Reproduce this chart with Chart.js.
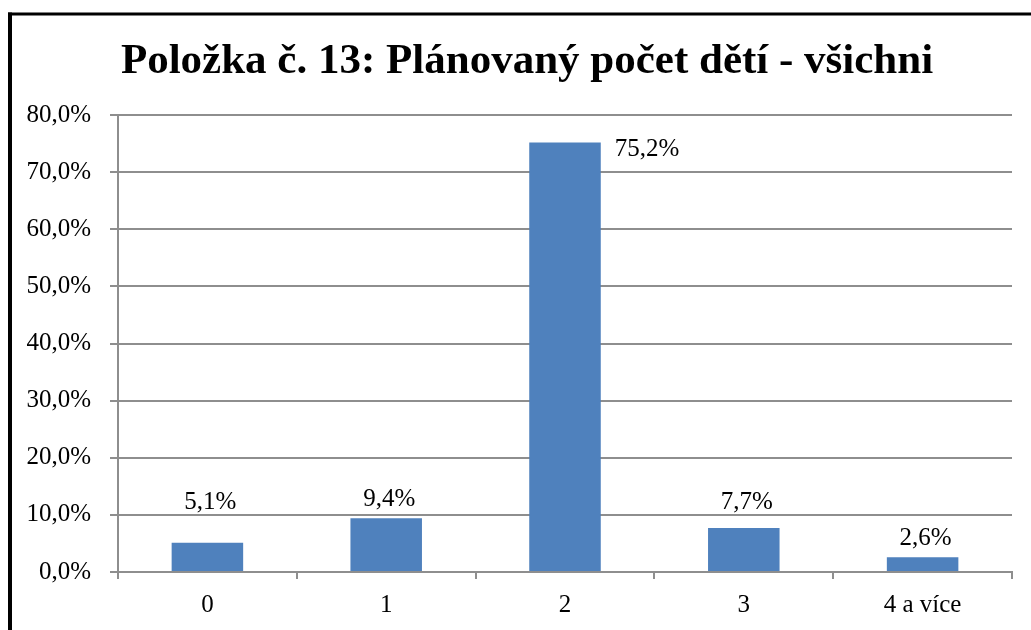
<!DOCTYPE html>
<html>
<head>
<meta charset="utf-8">
<script src="https://cdn.jsdelivr.net/npm/chart.js@4"></script>
<style>
  html, body { margin: 0; padding: 0; background: #fff; }
  #wrap { width: 1031px; height: 630px; position: relative; }
</style>
</head>
<body>
<div id="wrap"><canvas id="c" width="1031" height="630"></canvas></div>
<script>
const titleText = 'Položka č. 13: Plánovaný počet dětí - všichni';
const categories = ['0', '1', '2', '3', '4 a více'];
const values = [5.1, 9.4, 75.2, 7.7, 2.6];
const yMin = 0;
const yMax = 80;
const yStep = 10;

const fmt = v => Number(v).toFixed(1).replace('.', ',') + '%';
const FONT = 'Liberation Serif';
const GRID = '#8e8e8e';

const framePlugin = {
  id: 'frame',
  beforeDraw(chart) {
    const ctx = chart.ctx;
    ctx.save();
    ctx.fillStyle = '#fff';
    ctx.fillRect(0, 0, chart.width, chart.height);
    ctx.fillStyle = '#000';
    ctx.fillRect(8, 12.5, 4, chart.height);
    ctx.fillRect(8, 12.5, chart.width, 3);
    ctx.restore();
  },
  afterDraw(chart) {
    const ctx = chart.ctx;
    ctx.save();
    ctx.font = 'bold 43px "' + FONT + '"';
    ctx.fillStyle = '#000';
    ctx.textAlign = 'center';
    ctx.textBaseline = 'alphabetic';
    ctx.fillText(titleText, 527, 73);
    ctx.restore();
  }
};

const labelPlugin = {
  id: 'valLabels',
  afterDatasetsDraw(chart) {
    const ctx = chart.ctx;
    const yScale = chart.scales.y;
    const area = chart.chartArea;
    const meta = chart.getDatasetMeta(0);
    const gridYs = yScale.ticks.map(t => yScale.getPixelForValue(t.value));
    ctx.save();
    ctx.font = '25px "' + FONT + '"';
    ctx.fillStyle = '#000';
    ctx.textBaseline = 'alphabetic';
    meta.data.forEach((bar, i) => {
      const txt = fmt(values[i]);
      const top = bar.y;
      let base = top - 12;
      if (base - 18 < area.top) {
        ctx.textAlign = 'left';
        ctx.fillText(txt, bar.x + bar.width / 2 + 14, top + 14);
        return;
      }
      for (const g of gridYs) {
        if (g < base + 5 && g > base - 18) { base = g - 6; }
      }
      ctx.textAlign = 'center';
      ctx.fillText(txt, bar.x + 3, base);
    });
    ctx.restore();
  }
};

new Chart(document.getElementById('c'), {
  type: 'bar',
  data: {
    labels: categories,
    datasets: [{
      data: values,
      backgroundColor: '#4F81BD',
      borderWidth: 0,
      barPercentage: 0.4,
      categoryPercentage: 1.0
    }]
  },
  options: {
    responsive: false,
    animation: false,
    events: [],
    layout: { padding: { left: 0, right: 19, top: 115, bottom: 0 } },
    plugins: {
      legend: { display: false },
      tooltip: { enabled: false },
      title: { display: false }
    },
    scales: {
      x: {
        offset: true,
        grid: {
          display: true,
          drawOnChartArea: false,
          drawTicks: true,
          tickLength: 7,
          color: GRID,
          lineWidth: 2,
          offset: true
        },
        border: { display: true, color: GRID, width: 2 },
        ticks: {
          color: '#000',
          font: { family: FONT, size: 25 },
          padding: 11,
          maxRotation: 0
        },
        afterFit(scale) { scale.height = 58; }
      },
      y: {
        min: yMin,
        max: yMax,
        ticks: {
          stepSize: yStep,
          color: '#000',
          font: { family: FONT, size: 25 },
          padding: 19,
          callback: v => fmt(v)
        },
        grid: {
          color: GRID,
          lineWidth: 2,
          tickLength: 8,
          drawTicks: true
        },
        border: { display: true, color: GRID, width: 2 },
        afterFit(scale) { scale.width = 118; }
      }
    }
  },
  plugins: [framePlugin, labelPlugin]
});
</script>
</body>
</html>
